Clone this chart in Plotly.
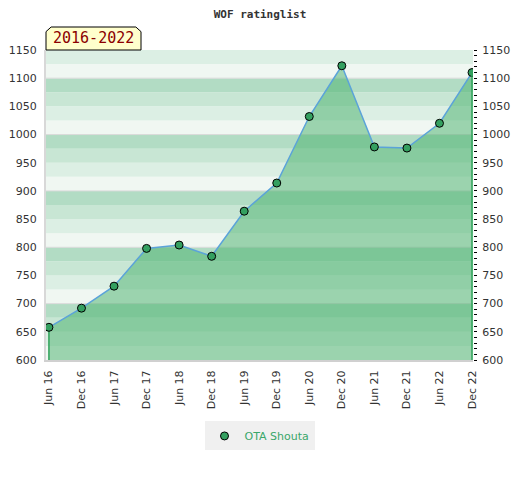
import plotly.graph_objects as go

# Half-year rating points
periods = ["Jun 16", "Dec 16", "Jun 17", "Dec 17", "Jun 18", "Dec 18", "Jun 19",
           "Dec 19", "Jun 20", "Dec 20", "Jun 21", "Dec 21", "Jun 22", "Dec 22"]
ratings = [658, 692, 731, 798, 804, 784, 864, 914, 1032, 1122, 978, 976, 1020, 1110]
player = "OTA Shouta"
span_label = "2016-2022"

y_min, y_max = 600, 1150
idx = list(range(len(periods)))

fig = go.Figure()

# Filled rating line
fig.add_trace(go.Scatter(
    x=idx, y=ratings, mode="lines", fill="tozeroy",
    fillcolor="rgba(70,175,105,0.5)",
    line=dict(color="#5ba3d9", width=1.5),
    showlegend=False, hoverinfo="skip",
))

# Green edges of the filled area
fig.add_trace(go.Scatter(x=[idx[0], idx[0]], y=[y_min, ratings[0]], mode="lines",
                         line=dict(color="#2fa35a", width=1.5), showlegend=False, hoverinfo="skip"))
fig.add_trace(go.Scatter(x=[idx[-1], idx[-1]], y=[y_min, ratings[-1]], mode="lines",
                         line=dict(color="#2fa35a", width=1.5), showlegend=False,
                         hoverinfo="skip", yaxis="y2"))

# Markers
fig.add_trace(go.Scatter(
    x=idx, y=ratings, mode="markers",
    marker=dict(size=8, color="#34a060", line=dict(color="black", width=1)),
    showlegend=False,
))

# Legend entry (marker only)
fig.add_trace(go.Scatter(
    x=[None], y=[None], mode="markers", name=player,
    marker=dict(size=8, color="#34a060", line=dict(color="black", width=1)),
))

# Striped background, pattern repeating every 100 points
band_colors = ["#f0f7f2", "#dcefe4", "#c8e6d4", "#b2dcc4"]
for lo in range(y_min, y_max, 25):
    fig.add_shape(type="rect", xref="paper", yref="y", x0=0, x1=1, y0=lo, y1=lo + 25,
                  fillcolor=band_colors[(lo % 100) // 25], line_width=0, layer="below")
for v in range(y_min + 100, y_max, 100):
    fig.add_shape(type="line", xref="paper", yref="y", x0=0, x1=1, y0=v, y1=v,
                  line=dict(color="#dadada", width=1), layer="below")

# "2016-2022" tag with clipped top corners
tag_h = 23 / 310
tag_w = 95 / 427
c = 0.012
fig.add_shape(
    type="path", xref="paper", yref="paper",
    path=(f"M 0 1 L 0 {1 + tag_h - 0.015} L {c} {1 + tag_h} L {tag_w - c} {1 + tag_h} "
          f"L {tag_w} {1 + tag_h - 0.015} L {tag_w} 1 Z"),
    fillcolor="#ffffcc", line=dict(color="black", width=1), layer="above",
)
fig.add_annotation(
    text=span_label, xref="paper", yref="paper", x=tag_w / 2, y=1 + tag_h / 2,
    xanchor="center", yanchor="middle",
    showarrow=False, font=dict(family="DejaVu Sans Mono", size=15, color="#8b0000"),
)

# page body has an 8px margin, so the figure is sized to fit inside it
fig.update_layout(
    width=504, height=464,
    margin=dict(l=38, r=39, t=42, b=112),
    paper_bgcolor="white", plot_bgcolor="white",
    title=dict(text="<b>WOF ratinglist</b>", x=0.5, xanchor="center",
               y=0.987, yanchor="middle",
               font=dict(family="DejaVu Sans Mono", size=11, color="#333")),
    font=dict(family="DejaVu Sans", size=11, color="#333"),
    xaxis=dict(
        range=[-0.09, len(periods) - 1 + 0.03],
        tickmode="array", tickvals=idx, ticktext=periods, tickangle=-90,
        showgrid=False, zeroline=False, ticks="",
        showline=True, linecolor="#d0d0d0", linewidth=2,
        ticklabelstandoff=4, automargin=False,
    ),
    yaxis=dict(
        range=[y_min, y_max], dtick=50, showgrid=False, zeroline=False, ticks="",
        showline=True, linecolor="#d8d8d8", linewidth=2, ticklabelstandoff=5,
        automargin=False,
    ),
    yaxis2=dict(
        range=[y_min, y_max], dtick=50, overlaying="y", side="right",
        showgrid=False, zeroline=False,
        ticks="outside", ticklen=3, tickcolor="black", tickwidth=1,
        minor=dict(dtick=10, ticks="outside", ticklen=3, tickcolor="black"),
        ticklabelstandoff=3, tickfont=dict(color="#333"), automargin=False,
    ),
    showlegend=True,
    legend=dict(
        orientation="h", x=0.5, xanchor="center", y=-0.245, yanchor="middle",
        bgcolor="#f0f0f0", font=dict(color="#3aa76a", size=11), itemwidth=30,
    ),
)

fig.write_html("out.html")
